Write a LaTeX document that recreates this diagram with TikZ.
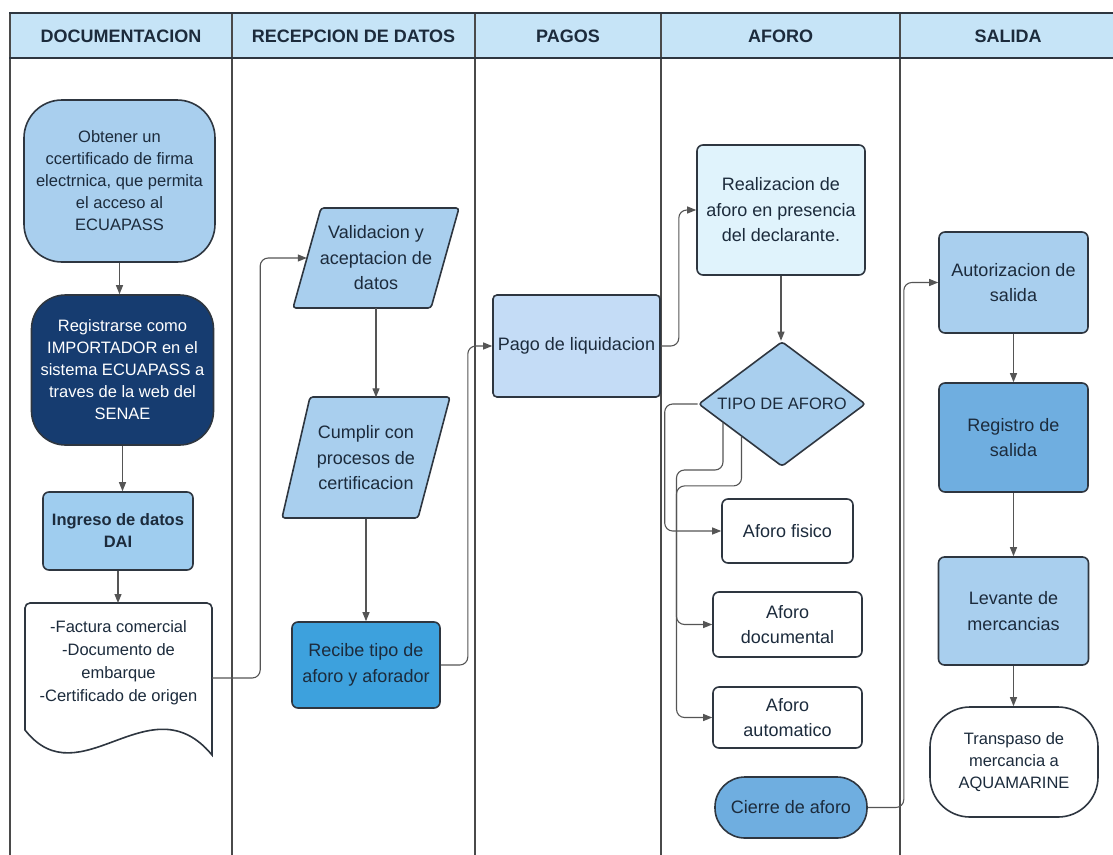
\documentclass[tikz,border=0pt]{standalone}
\usepackage{fontspec}
\setmainfont{Liberation Sans}
\usetikzlibrary{arrows.meta,shapes.geometric,calc}
\definecolor{hdr}{HTML}{C6E4F7}
\definecolor{lb}{HTML}{A9CFEE}
\definecolor{lbb}{HTML}{9FCDEF}
\definecolor{navyc}{HTML}{163C70}
\definecolor{recc}{HTML}{3DA1DD}
\definecolor{pagoc}{HTML}{C4DCF6}
\definecolor{realc}{HTML}{E0F3FC}
\definecolor{medc}{HTML}{6FAEE0}
\definecolor{bord}{HTML}{2E3640}
\definecolor{lanec}{HTML}{4A4A4A}
\definecolor{cgray}{HTML}{555555}
\definecolor{txt}{HTML}{1C2B3C}
\newcommand\fbig{\fontsize{18}{25.5}\selectfont}
\newcommand\fsm{\fontsize{16.5}{22}\selectfont}
\newcommand\fdoc{\fontsize{16.5}{23}\selectfont}
\newcommand\fhd{\fontsize{18}{22}\selectfont\bfseries}
\begin{document}
\begin{tikzpicture}[x=1pt,y=-1pt,
  every node/.style={text=txt, align=center},
  box/.style={draw=bord, line width=1.6pt, rounded corners=6pt, inner sep=2pt, font=\fbig},
  para/.style={draw=bord, fill=lb, line width=1.6pt, rounded corners=3pt},
  ptext/.style={font=\fbig, inner sep=0pt},
  conn/.style={draw=cgray, line width=1.1pt, -{Triangle[length=9pt,width=7pt]}, rounded corners=8pt},
  lane/.style={draw=lanec, line width=2pt},
  hdrtext/.style={font=\fhd, text=txt}]
\useasboundingbox (0,0) rectangle (1113,854);
\fill[white] (0,0) rectangle (1113,854);
% header and lanes
\fill[hdr] (10,13) rectangle (1125,58);
\foreach \x in {10,232,475,661,900} \draw[lane] (\x,13) -- (\x,860);
\draw[draw=bord, line width=2.4pt] (9,13) -- (1125,13);
\draw[draw=bord, line width=2.4pt] (9,58) -- (1125,58);
\node[hdrtext] (h1) at (121,36) {DOCUMENTACION};
\node[hdrtext] (h2) at (353.5,36) {RECEPCION DE DATOS};
\node[hdrtext] (h3) at (568,36) {PAGOS};
\node[hdrtext] (h4) at (780.5,36) {AFORO};
\node[hdrtext] (h5) at (1008,36) {SALIDA};

% DOCUMENTACION
\node[box, fill=lb, rounded corners=38pt, minimum width=191pt, minimum height=162pt, font=\fsm] (obt) at (119.5,181)
  {Obtener un\\ccertificado de firma\\electrnica, que permita\\el acceso al\\ECUAPASS};
\node[box, fill=navyc, text=white, rounded corners=34pt, minimum width=182pt, minimum height=150pt, font=\fsm] (regi) at (122.5,370)
  {Registrarse como\\IMPORTADOR en el\\sistema ECUAPASS a\\traves de la web del\\SENAE};
\node[box, fill=lbb, font=\fsm\bfseries, minimum width=150pt, minimum height=78pt] (ing) at (118,531)
  {Ingreso de datos\\DAI};
\draw[draw=bord, fill=white, line width=1.6pt] (25,730) [rounded corners=5pt] -- (25,603) -- (212,603) [sharp corners] -- (212,755)
  .. controls (150,680) and (80,800) .. (25,730) -- cycle;
\coordinate (doctop) at (118.5,603);
\node[font=\fdoc, minimum width=187pt, inner sep=0pt] (doc) at (118.5,663)
  {-Factura comercial\\-Documento de\\embarque\\-Certificado de origen};

% RECEPCION DE DATOS
\draw[para] (321,208) -- (459,208) -- (431,308) -- (293,308) -- cycle;
\node[ptext, minimum width=138pt, minimum height=100pt] (val) at (376,258) {Validacion y\\aceptacion de\\datos};
\draw[para] (310,397) -- (450,397) -- (418,518) -- (282,518) -- cycle;
\node[ptext, minimum width=138pt, minimum height=121pt] (cum) at (366,458) {Cumplir con\\procesos de\\certificacion};
\node[box, fill=recc, minimum width=148pt, minimum height=86pt] (rec) at (366,665) {Recibe tipo de\\aforo y aforador};

% PAGOS
\node[box, fill=pagoc, rounded corners=4pt, minimum width=167pt, minimum height=102pt] (pag) at (576.5,346) {Pago de liquidacion};

% AFORO
\node[box, fill=realc, minimum width=168pt, minimum height=130pt] (real) at (781,210) {Realizacion de\\aforo en presencia\\del declarante.};
\node[draw=bord, line width=1.6pt, fill=lb, shape=diamond, aspect=1.34, inner sep=0pt, minimum width=167pt, minimum height=125pt, font=\fsm, rounded corners=3pt] (tipo) at (782,404) {TIPO DE AFORO};
\node[box, fill=white, minimum width=131pt, minimum height=64pt] (fis) at (787.5,531) {Aforo fisico};
\node[box, fill=white, minimum width=149pt, minimum height=65pt] (adoc) at (787.5,624.5) {Aforo\\documental};
\node[box, fill=white, minimum width=149pt, minimum height=61pt] (aaut) at (787.5,717.5) {Aforo\\automatico};
\node[box, fill=medc, rounded corners=30pt, minimum width=152pt, minimum height=61pt] (cie) at (791,807.5) {Cierre de aforo};

% SALIDA
\node[box, fill=lb, minimum width=149pt, minimum height=101pt] (aut) at (1013.5,282.5) {Autorizacion de\\salida};
\node[box, fill=medc, minimum width=149pt, minimum height=109pt] (regs) at (1013.5,437.5) {Registro de\\salida};
\node[box, fill=lb, minimum width=150pt, minimum height=108pt] (lev) at (1013.5,611) {Levante de\\mercancias};
\node[box, fill=white, rounded corners=40pt, minimum width=168pt, minimum height=110pt, font=\fsm] (tra) at (1014,762) {Transpaso de\\mercancia a\\AQUAMARINE};

% connectors
\draw[conn] (obt.south) -- (obt.south |- regi.north);
\draw[conn] (regi.south) -- (regi.south |- ing.north);
\draw[conn] (ing.south) -- (ing.south |- doctop);
\draw[conn] ([yshift=-15pt]doc.east) -- ++(48,0) |- (val.west);
\draw[conn] (val.south) -- (val.south |- cum.north);
\draw[conn] (cum.south) -- (cum.south |- rec.north);
\draw[conn] (rec.east) -- ++(27,0) |- (pag.west);
\draw[conn] (pag.east) -- ++(18,0) |- (real.west);
\draw[conn] (real.south) -- (real.south |- tipo.north);
\coordinate (pb) at ($(tipo.west)!0.3!(tipo.south)$);
\coordinate (pc) at ($(tipo.west)!0.52!(tipo.south)$);
\draw[conn] (tipo.west) -- ++(-33,0) |- (fis.west);
\draw[conn] (pb) -- ++(0,47) -- ++(-46.5,0) |- (adoc.west);
\draw[conn] (pc) -- ++(0,49) -- ++(-65,0) |- (aaut.west);
\draw[conn] (cie.east) -- ++(36,0) |- (aut.west);
\draw[conn] (aut.south) -- (aut.south |- regs.north);
\draw[conn] (regs.south) -- (regs.south |- lev.north);
\draw[conn] (lev.south) -- (lev.south |- tra.north);
\end{tikzpicture}
\end{document}
